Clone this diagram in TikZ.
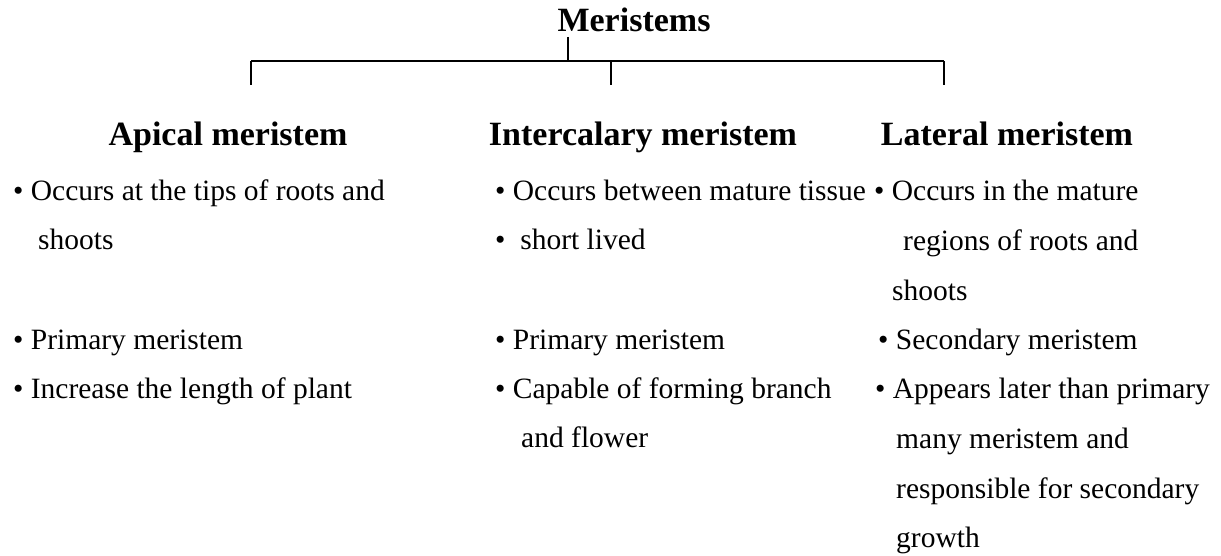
\documentclass[tikz,border=0pt]{standalone}
\usepackage{fontspec}
\setmainfont{Liberation Serif}
\usepackage{tikz}
\tikzset{
  rootLbl/.style={font=\fontsize{34}{40}\selectfont\bfseries, inner sep=0pt, anchor=base},
  headLbl/.style={font=\fontsize{34}{40}\selectfont\bfseries, inner sep=0pt, anchor=base},
  itemLbl/.style={font=\fontsize{29.5}{35}\selectfont, inner sep=0pt, anchor=base west},
  link/.style={draw=black, line width=1.5pt},
}
\newcommand{\TreeCoords}{%
  \coordinate (stemTop) at (568,37);
  \coordinate (stemFoot) at (568,61);
  \coordinate (barL) at (251,61);
  \coordinate (barM) at (611,61);
  \coordinate (barR) at (944,61);
  \coordinate (dropA) at (251,85);
  \coordinate (dropI) at (611,85);
  \coordinate (dropL) at (944,85);
}

\begin{document}
\begin{tikzpicture}[x=1pt, y=-1pt]
  \useasboundingbox (0,0) rectangle (1221,556);
  \TreeCoords

  \node[rootLbl] (root) at (634,32) {Meristems};

  \draw[link] (stemTop)--(stemFoot);
  \draw[link] (barL)--(barR);
  \draw[link] (barL)--(dropA);
  \draw[link] (barM)--(dropI);
  \draw[link] (barR)--(dropL);

  \node[headLbl] (apical) at (228,146) {Apical meristem};
  \node[headLbl] (inter)  at (643,146) {Intercalary meristem};
  \node[headLbl] (later)  at (1007,146) {Lateral meristem};

  % apical column
  \node[itemLbl] (a1)  at (13,201) {\textbullet\ Occurs at the tips of roots and};
  \node[itemLbl] (a1b) at (38,250) {shoots};
  \node[itemLbl] (a2)  at (13,349) {\textbullet\ Primary meristem};
  \node[itemLbl] (a3)  at (13,398) {\textbullet\ Increase the length of plant};

  % intercalary column
  \node[itemLbl] (i1)  at (495,201) {\textbullet\ Occurs between mature tissue};
  \node[itemLbl] (i2)  at (495,250) {\textbullet\ \ short lived};
  \node[itemLbl] (i3)  at (495,349) {\textbullet\ Primary meristem};
  \node[itemLbl] (i4)  at (495,398) {\textbullet\ Capable of forming branch};
  \node[itemLbl] (i4b) at (521,447) {and flower};

  % lateral column
  \node[itemLbl] (l1)  at (874,201) {\textbullet\ Occurs in the mature};
  \node[itemLbl] (l1b) at (903,251) {regions of roots and};
  \node[itemLbl] (l1c) at (892,300) {shoots};
  \node[itemLbl] (l2)  at (878,349) {\textbullet\ Secondary meristem};
  \node[itemLbl] (l3)  at (875,398) {\textbullet\ Appears later than primary};
  \node[itemLbl] (l3b) at (896,448) {many meristem and};
  \node[itemLbl] (l3c) at (896,498) {responsible for secondary};
  \node[itemLbl] (l3d) at (896,547) {growth};
\end{tikzpicture}
\end{document}
